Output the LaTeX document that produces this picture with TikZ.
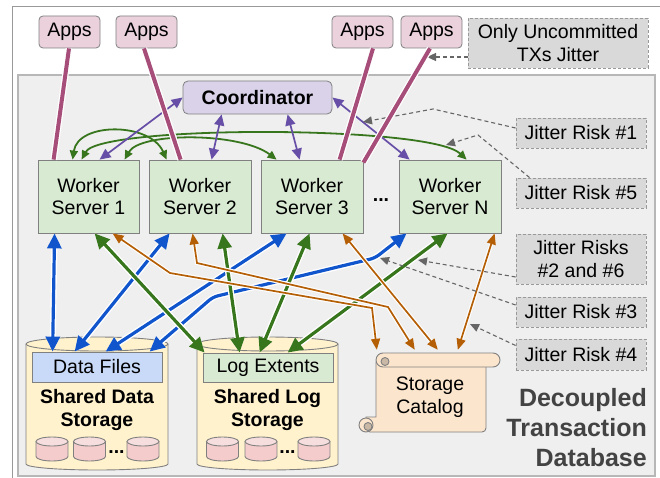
\documentclass[tikz,border=0pt]{standalone}
\usepackage{fontspec}
\setmainfont{Liberation Sans}
\usetikzlibrary{arrows.meta,calc}
\definecolor{framegray}{HTML}{999999}
\definecolor{dbfill}{HTML}{EFEFEF}
\definecolor{dbborder}{HTML}{B7B7B7}
\definecolor{bordergray}{HTML}{808080}
\definecolor{appfill}{HTML}{EAD1DC}
\definecolor{coordfill}{HTML}{D9D2E9}
\definecolor{workfill}{HTML}{D9EAD3}
\definecolor{jitfill}{HTML}{D9D9D9}
\definecolor{dffill}{HTML}{C9DAF8}
\definecolor{cylfill}{HTML}{FFF2CC}
\definecolor{minifill}{HTML}{F4CCCC}
\definecolor{minitop}{HTML}{F6DEDE}
\definecolor{scrollfill}{HTML}{FCE5CD}
\definecolor{curlfill}{HTML}{C9B8A5}
\definecolor{maroonC}{HTML}{A64D79}
\definecolor{purpleC}{HTML}{674EA7}
\definecolor{greenC}{HTML}{38761D}
\definecolor{blueC}{HTML}{1155CC}
\definecolor{orangeC}{HTML}{B45F06}
\definecolor{dashC}{HTML}{666666}
\definecolor{titleC}{HTML}{434343}
\newcommand\fnorm{\fontsize{19.5pt}{22.5pt}\selectfont}
\newcommand\ftitle{\fontsize{25pt}{30pt}\selectfont\bfseries}
\begin{document}
\begin{tikzpicture}[x=1pt,y=-1pt,
  box/.style={draw=bordergray, line width=0.8pt, inner sep=0pt, align=center, font=\fnorm},
  appbox/.style={box, fill=appfill, rounded corners=4pt, minimum width=61pt, minimum height=32pt},
  coordbox/.style={box, fill=coordfill, rounded corners=5pt, minimum width=149pt, minimum height=33pt},
  worker/.style={box, fill=workfill, minimum width=102pt, minimum height=73pt},
  jitter/.style={box, fill=jitfill, draw=framegray, dash pattern=on 3pt off 2pt, minimum width=130pt},
  inbox/.style={box, minimum width=130pt, minimum height=30pt},
  cyllabel/.style={inner sep=0pt, align=center, font=\fnorm\bfseries},
  halo/.style={preaction={draw=white, line width=#1}},
  bluearr/.style={draw=blueC, line width=3.2pt, {Triangle[length=15pt,width=14pt]}-{Triangle[length=15pt,width=14pt]}, halo=6pt},
  greenarr/.style={draw=greenC, line width=3.2pt, {Triangle[length=15pt,width=14pt]}-{Triangle[length=15pt,width=14pt]}, halo=6pt},
  orangearr/.style={draw=orangeC, line width=1.7pt, {Triangle[length=11pt,width=9pt]}-{Triangle[length=11pt,width=9pt]}, halo=4pt},
  purparr/.style={draw=purpleC, line width=1.7pt, {Triangle[length=11pt,width=10pt]}-{Triangle[length=11pt,width=10pt]}},
  gcurve/.style={draw=greenC, line width=1.8pt, {Triangle[length=9pt,width=8pt]}-{Triangle[length=9pt,width=8pt]}},
  jarr/.style={draw=dashC, line width=1.1pt, dash pattern=on 4pt off 3pt, -{Triangle[length=9pt,width=8pt]}},
  appline/.style={draw=maroonC, line width=4pt, halo=6.5pt},
  cylline/.style={draw=bordergray, line width=0.9pt},
  minicyl/.pic={
    \fill[minifill] (0,7.5) ellipse[x radius=16pt,y radius=4.5pt];
    \fill[minifill] (-16,-7.5) rectangle (16,7.5);
    \draw[cylline] (-16,-7.5) -- (-16,7.5) arc[start angle=180,end angle=360,x radius=16pt,y radius=4.5pt] -- (16,-7.5);
    \draw[cylline, fill=minitop] (0,-7.5) ellipse[x radius=16pt,y radius=4.5pt];
  }]
\clip (0,0) rectangle (660,478);
% frames
\draw[draw=framegray, line width=1pt] (12,7) rectangle (690,500);
\draw[fill=dbfill, draw=dbborder, line width=1.5pt] (18,75) rectangle (655,476);

% apps
\node[appbox] (app1) at (69.5,32) {Apps};
\node[appbox] (app2) at (146.5,32) {Apps};
\node[appbox] (app3) at (362.5,32) {Apps};
\node[appbox] (app4) at (431.5,32) {Apps};
\node[jitter, minimum width=180pt, minimum height=50pt] (unc) at (558,43) {Only Uncommitted\\TXs Jitter};

% coordinator and workers
\node[coordbox] (coord) at (257.5,97.5) {\textbf{Coordinator}};
\node[worker, minimum width=101pt] (w1) at (88.5,196.5) {Worker\\Server 1};
\node[worker] (w2) at (200,196.5) {Worker\\Server 2};
\node[worker] (w3) at (312,196.5) {Worker\\Server 3};
\node[worker] (wN) at (450,196.5) {Worker\\Server N};
\node[font=\fnorm\bfseries, inner sep=0pt] (wdots) at (381,200) {...};

% jitter boxes
\node[jitter, minimum height=30pt] (jr1) at (581,133) {Jitter Risk \#1};
\node[jitter, minimum height=30pt] (jr5) at (581,193) {Jitter Risk \#5};
\node[jitter, minimum height=50pt] (jr26) at (581,259) {Jitter Risks\\\#2 and \#6};
\node[jitter, minimum height=30pt] (jr3) at (581,312) {Jitter Risk \#3};
\node[jitter, minimum height=31pt] (jr4) at (581,354.5) {Jitter Risk \#4};

\node[font=\ftitle, text=titleC, align=right, inner sep=0pt, anchor=east] (title) at (647,428) {Decoupled\\Transaction\\Database};

% shared data storage cylinder
\fill[cylfill] (97,464) ellipse[x radius=71pt,y radius=6pt];
\fill[cylfill] (26,344) rectangle (168,464);
\draw[cylline] (26,344) -- (26,464) arc[start angle=180,end angle=360,x radius=71pt,y radius=6pt] -- (168,344);
\draw[cylline, fill=cylfill] (97,344) ellipse[x radius=71pt,y radius=7pt];
\node[inbox, fill=dffill] (df) at (97,367) {Data Files};
\node[cyllabel] (dslabel) at (97,410) {Shared Data\\Storage};
\pic at (52,449) {minicyl};
\pic at (89.5,449) {minicyl};
\pic at (143,449) {minicyl};
\node[font=\fnorm\bfseries, inner sep=0pt, anchor=base] (dsdots) at (116.5,453) {...};

% shared log storage cylinder
\fill[cylfill] (267.5,464) ellipse[x radius=70.5pt,y radius=6pt];
\fill[cylfill] (197,344) rectangle (338,464);
\draw[cylline] (197,344) -- (197,464) arc[start angle=180,end angle=360,x radius=70.5pt,y radius=6pt] -- (338,344);
\draw[cylline, fill=cylfill] (267.5,344) ellipse[x radius=70.5pt,y radius=7pt];
\node[inbox, fill=workfill, minimum height=29pt] (le) at (268,367.5) {Log Extents};
\node[cyllabel] (lslabel) at (267.5,410) {Shared Log\\Storage};
\pic at (222.5,449) {minicyl};
\pic at (261,449) {minicyl};
\pic at (314,449) {minicyl};
\node[font=\fnorm\bfseries, inner sep=0pt, anchor=base] (lsdots) at (287.5,453) {...};

% storage catalog scroll
\node[minimum width=141pt, minimum height=79pt, inner sep=0pt] (cat) at (429.5,392.5) {};
\draw[cylline, fill=scrollfill, rounded corners=4pt] (376,362) -- (486,362) -- (486,432) -- (366,432) [sharp corners] -- (366,417) -- (376,417) -- cycle;
\draw[cylline, fill=scrollfill] (383,353) -- (493,353) arc[start angle=90,end angle=-90,radius=7pt] -- (383,367) arc[start angle=-90,end angle=-270,radius=7pt] -- cycle;
\draw[cylline, fill=curlfill] (385,361.5) circle[radius=4pt];
\draw[cylline, fill=scrollfill] (366,425) circle[radius=7pt];
\draw[cylline, fill=curlfill] (368,426.5) circle[radius=4pt];
\node[font=\fnorm, align=center, inner sep=0pt] (catlabel) at (430,397) {Storage\\Catalog};

% green curves between workers
\draw[gcurve] ([xshift=35pt]w1.north west) .. controls (78,122) and (150,122) .. ([xshift=18pt]w2.north west);
\draw[gcurve] ([xshift=44pt]w1.north west) .. controls (100,125) and (430,125) .. ([xshift=68pt]wN.north west);
\draw[gcurve] ([xshift=87pt]w1.north west) .. controls (140,132) and (240,132) .. ([xshift=16pt]w3.north west);

% coordinator arrows
\draw[purparr] (coord.west) -- ([xshift=62pt]w1.north west);
\draw[purparr] ([xshift=39pt]coord.south west) -- ([xshift=63pt]w2.north west);
\draw[purparr] ([xshift=105pt]coord.south west) -- ([xshift=39pt]w3.north west);
\draw[purparr] (coord.east) -- ([xshift=11pt]wN.north west);

% data files arrows
\draw[bluearr] ([xshift=17pt]w1.south west) -- ([xshift=21pt]df.north west);
\draw[bluearr] ([xshift=21pt]w2.south west) -- ([xshift=43pt]df.north west);
\draw[bluearr] ([xshift=26pt]w3.south west) -- ([xshift=74pt]df.north west);
\draw[bluearr, rounded corners=5pt] ([xshift=8pt]wN.south west) -- (375,258) -- (213,297) -- ([xshift=118pt]df.north west);

% log arrows
\draw[greenarr] ([xshift=57pt]w1.south west) -- ([xshift=2pt]le.north west);
\draw[greenarr] ([xshift=74pt]w2.south west) -- ([xshift=37pt]le.north west);
\draw[greenarr] ([xshift=49pt]w3.south west) -- ([xshift=57pt]le.north west);
\draw[greenarr] ([xshift=49pt]wN.south west) -- ([xshift=85pt]le.north west);

% catalog arrows
\draw[orangearr] ([xshift=75pt]w1.south west) -- (170,273) -- (372,308) -- ([xshift=18pt,yshift=3pt]cat.north west);
\draw[orangearr] ([xshift=44pt]w2.south west) -- (197,263) -- (388,307) -- ([xshift=56pt,yshift=3pt]cat.north west);
\draw[orangearr] ([xshift=82pt]w3.south west) -- ([xshift=79pt,yshift=3pt]cat.north west);
\draw[orangearr] ([xshift=96pt]wN.south west) -- ([xshift=99pt,yshift=3pt]cat.north west);

% jitter pointers
\coordinate (t0) at (427,57);
\coordinate (t1) at (363,122);
\coordinate (t5) at (446,145);
\coordinate (t26) at (418,260);
\coordinate (t3) at (380,258);
\coordinate (t4) at (470,324);
\draw[jarr] ([yshift=-14pt]unc.west) -- (t0);
\draw[jarr] ([yshift=5pt]jr1.west) -- (433,109) -- (t1);
\draw[jarr] ([xshift=14pt]jr5.north west) -- (478,135) -- (t5);
\draw[jarr] ([yshift=-18pt]jr26.west) -- (t26);
\draw[jarr] ([yshift=7pt]jr3.west) -- (t3);
\draw[jarr] ([yshift=9pt]jr4.west) -- (t4);

% app connections
\draw[appline] ([xshift=-0.5pt]app1.south) -- ([xshift=16pt]w1.north west);
\draw[appline] ([xshift=-2.5pt]app2.south) -- ([xshift=32pt]w2.north west);
\draw[appline] ([xshift=10.5pt]app3.south) -- ([xshift=79pt]w3.north west);
\draw[appline] ([xshift=-1.5pt]app4.south) -- ([yshift=-3pt]w3.north east);
\end{tikzpicture}
\end{document}
